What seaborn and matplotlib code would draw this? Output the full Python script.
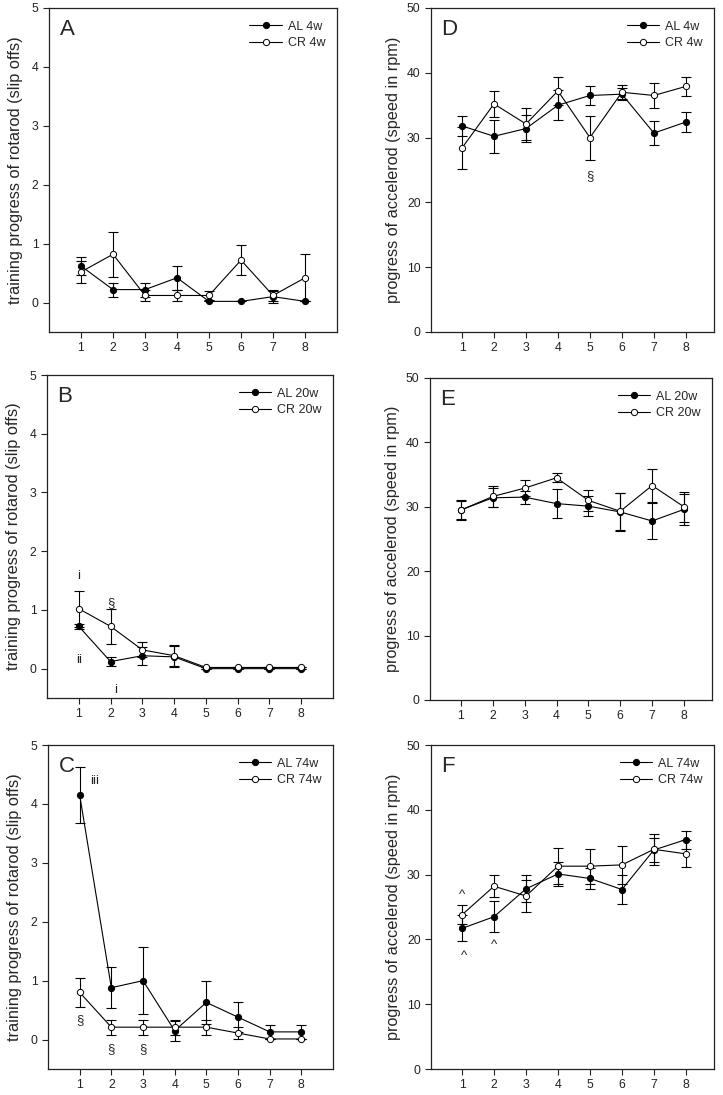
import numpy as np
import pandas as pd
import seaborn as sns
import matplotlib
matplotlib.use("Agg")
import matplotlib.pyplot as plt

# training day
days = [1, 2, 3, 4, 5, 6, 7, 8]

# rotarod, slip offs (mean, sem)
rot_al_4w = [0.62, 0.22, 0.22, 0.42, 0.02, 0.02, 0.10, 0.02]
rot_al_4w_err = [0.15, 0.12, 0.12, 0.20, 0.00, 0.00, 0.10, 0.00]
rot_cr_4w = [0.52, 0.82, 0.12, 0.12, 0.12, 0.72, 0.12, 0.42]
rot_cr_4w_err = [0.18, 0.38, 0.10, 0.10, 0.08, 0.25, 0.10, 0.40]

rot_al_20w = [0.72, 0.12, 0.22, 0.20, 0.00, 0.00, 0.00, 0.00]
rot_al_20w_err = [0.04, 0.08, 0.15, 0.18, 0.00, 0.00, 0.00, 0.00]
rot_cr_20w = [1.02, 0.72, 0.32, 0.22, 0.02, 0.02, 0.02, 0.02]
rot_cr_20w_err = [0.31, 0.30, 0.13, 0.18, 0.00, 0.00, 0.00, 0.00]

rot_al_74w = [4.15, 0.88, 1.00, 0.15, 0.63, 0.38, 0.13, 0.13]
rot_al_74w_err = [0.48, 0.35, 0.57, 0.17, 0.37, 0.25, 0.12, 0.12]
rot_cr_74w = [0.80, 0.21, 0.21, 0.21, 0.21, 0.11, 0.01, 0.01]
rot_cr_74w_err = [0.25, 0.13, 0.13, 0.13, 0.13, 0.10, 0.00, 0.00]

# accelerod, speed in rpm (mean, sem)
acc_al_4w = [31.8, 30.2, 31.4, 35.0, 36.5, 36.7, 30.7, 32.4]
acc_al_4w_err = [1.6, 2.5, 2.1, 2.3, 1.4, 0.9, 1.8, 1.5]
acc_cr_4w = [28.4, 35.2, 32.1, 37.2, 30.0, 37.0, 36.5, 37.9]
acc_cr_4w_err = [3.2, 2.0, 2.5, 2.2, 3.4, 1.1, 1.9, 1.5]

acc_al_20w = [29.5, 31.4, 31.5, 30.5, 30.1, 29.2, 27.8, 29.6]
acc_al_20w_err = [1.6, 1.5, 1.0, 2.3, 1.5, 2.9, 2.8, 2.4]
acc_cr_20w = [29.5, 31.6, 32.9, 34.5, 31.0, 29.3, 33.3, 30.0]
acc_cr_20w_err = [1.4, 1.6, 1.3, 0.7, 1.6, 2.9, 2.5, 2.3]

acc_al_74w = [21.7, 23.5, 27.8, 30.1, 29.4, 27.7, 33.8, 35.4]
acc_al_74w_err = [2.0, 2.4, 2.1, 1.8, 1.6, 2.2, 1.8, 1.4]
acc_cr_74w = [23.8, 28.2, 26.7, 31.3, 31.3, 31.5, 33.9, 33.2]
acc_cr_74w_err = [1.5, 1.7, 2.4, 2.8, 2.7, 2.9, 2.4, 2.1]

rot_label = "training progress of rotarod (slip offs)"
acc_label = "progress of accelerod (speed in rpm)"

sns.set_style("ticks")
plt.rcParams["font.family"] = ["Liberation Sans", "DejaVu Sans"]

W, H = 723, 1095
fig = plt.figure(figsize=(W / 100, H / 100), dpi=100)


def add_ax(left, right, top, bottom):
    return fig.add_axes([left / W, 1 - bottom / H, (right - left) / W, (bottom - top) / H])


def draw_panel(ax, letter, age, al, al_err, cr, cr_err, rotarod):
    df = pd.DataFrame({
        "day": days * 2,
        "value": al + cr,
        "group": [f"AL {age}"] * len(days) + [f"CR {age}"] * len(days),
    })
    for grp, face, err in [(f"AL {age}", "black", al_err), (f"CR {age}", "white", cr_err)]:
        sub = df[df["group"] == grp]
        ax.errorbar(sub["day"], sub["value"], yerr=err, fmt="none", ecolor="black",
                    elinewidth=0.8, capsize=3.5, capthick=0.8, zorder=2)
        sns.lineplot(data=sub, x="day", y="value", ax=ax, color="black", linewidth=0.8,
                     marker="o", markersize=4.5, markerfacecolor=face,
                     markeredgecolor="black", markeredgewidth=0.7, label=grp, zorder=3)
    if rotarod:
        ax.set_ylim(-0.5, 5)
        ax.set_yticks([0, 1, 2, 3, 4, 5])
        ax.set_xlim(0, 9)
        ax.set_ylabel(rot_label, fontsize=11.8, labelpad=6)
    else:
        ax.set_ylim(0, 50)
        ax.set_yticks([0, 10, 20, 30, 40, 50])
        ax.set_xlim(0.03, 8.88)
        ax.set_ylabel(acc_label, fontsize=11.7, labelpad=4)
    ax.set_xticks(days)
    ax.set_xlabel("")
    ax.tick_params(labelsize=8.8, length=4, width=0.8, colors="#222222", labelcolor="#222222")
    for s in ax.spines.values():
        s.set_linewidth(0.9)
        s.set_color("#222222")
    ax.legend(frameon=False, loc="upper right", bbox_to_anchor=(1.0, 0.995), fontsize=9,
              handlelength=2.6, handletextpad=0.5, labelspacing=0.35)
    ax.text(0.037, 0.965, letter, transform=ax.transAxes, fontsize=16, va="top", ha="left")


axA = add_ax(49, 337, 8, 332)
axD = add_ax(431, 714, 8, 332)
axB = add_ax(47, 333, 375, 698)
axE = add_ax(430, 712, 378, 700)
axC = add_ax(48, 333, 745, 1069)
axF = add_ax(431, 714, 745, 1069)

draw_panel(axA, "A", "4w", rot_al_4w, rot_al_4w_err, rot_cr_4w, rot_cr_4w_err, True)
draw_panel(axB, "B", "20w", rot_al_20w, rot_al_20w_err, rot_cr_20w, rot_cr_20w_err, True)
draw_panel(axC, "C", "74w", rot_al_74w, rot_al_74w_err, rot_cr_74w, rot_cr_74w_err, True)
draw_panel(axD, "D", "4w", acc_al_4w, acc_al_4w_err, acc_cr_4w, acc_cr_4w_err, False)
draw_panel(axE, "E", "20w", acc_al_20w, acc_al_20w_err, acc_cr_20w, acc_cr_20w_err, False)
draw_panel(axF, "F", "74w", acc_al_74w, acc_al_74w_err, acc_cr_74w, acc_cr_74w_err, False)

# significance marks
kw = dict(ha="center", va="center", fontsize=9.5, color="#222222")
axB.text(1, 1.57, "i", **kw)
axB.text(1, 0.14, "ii", **kw)
axB.text(2, 1.12, "§", **kw)
axB.text(2.17, -0.37, "i", **kw)
axC.text(1.48, 4.39, "iii", **kw)
axC.text(1, 0.33, "§", **kw)
axC.text(2, -0.16, "§", **kw)
axC.text(3, -0.16, "§", **kw)
axD.text(5, 24.0, "§", **kw)
axF.text(1, 26.8, "^", **kw)
axF.text(1.05, 17.5, "^", **kw)
axF.text(2, 19.2, "^", **kw)

fig.savefig("out.png", dpi=100)
